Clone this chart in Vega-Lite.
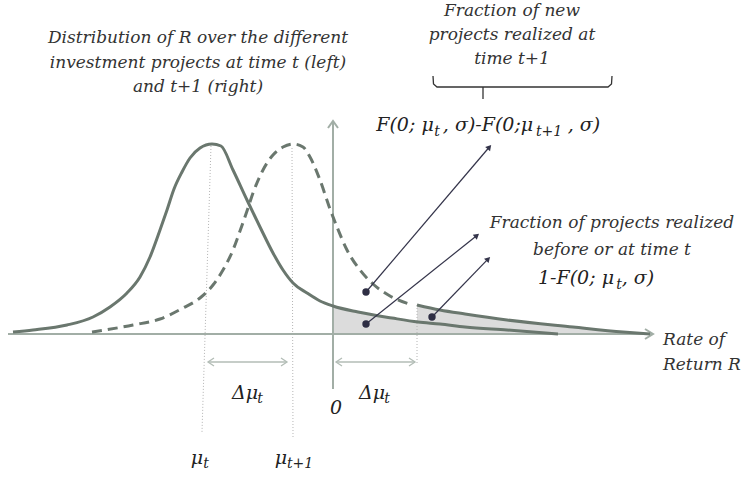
{
  "$schema": "https://vega.github.io/schema/vega-lite/v6.json",
  "width": 743,
  "height": 479,
  "autosize": {"type": "fit", "contains": "padding"},
  "padding": 0,
  "background": "white",
  "config": {"view": {"stroke": null}},
  "datasets": {
    "solid": [
      {"x": 13, "y": 332}, {"x": 33, "y": 330}, {"x": 67, "y": 325}, {"x": 93, "y": 317},
      {"x": 110, "y": 307}, {"x": 127, "y": 293}, {"x": 140, "y": 277}, {"x": 150, "y": 257},
      {"x": 160, "y": 230}, {"x": 167, "y": 210}, {"x": 174, "y": 189}, {"x": 182, "y": 172},
      {"x": 190, "y": 158}, {"x": 200, "y": 148}, {"x": 212, "y": 144}, {"x": 221, "y": 146},
      {"x": 233, "y": 170}, {"x": 247, "y": 200}, {"x": 260, "y": 227}, {"x": 273, "y": 253},
      {"x": 283, "y": 270}, {"x": 293, "y": 283}, {"x": 307, "y": 293}, {"x": 320, "y": 301},
      {"x": 333, "y": 306}, {"x": 358, "y": 312}, {"x": 392, "y": 318}, {"x": 418, "y": 322},
      {"x": 440, "y": 324}, {"x": 465, "y": 327}, {"x": 507, "y": 330}, {"x": 558, "y": 334}
    ],
    "dashed": [
      {"x": 92, "y": 332}, {"x": 133, "y": 325}, {"x": 160, "y": 319}, {"x": 183, "y": 308},
      {"x": 200, "y": 298}, {"x": 213, "y": 285}, {"x": 223, "y": 270}, {"x": 233, "y": 250},
      {"x": 240, "y": 231}, {"x": 247, "y": 211}, {"x": 253, "y": 193}, {"x": 263, "y": 170},
      {"x": 273, "y": 155}, {"x": 283, "y": 147}, {"x": 293, "y": 144}, {"x": 303, "y": 147},
      {"x": 310, "y": 157}, {"x": 320, "y": 180}, {"x": 330, "y": 209}, {"x": 337, "y": 227},
      {"x": 347, "y": 250}, {"x": 360, "y": 270}, {"x": 373, "y": 284}, {"x": 390, "y": 296},
      {"x": 409, "y": 304}
    ],
    "upper": [
      {"x": 417, "y": 305}, {"x": 440, "y": 310}, {"x": 465, "y": 314}, {"x": 507, "y": 320},
      {"x": 573, "y": 327}, {"x": 623, "y": 332}, {"x": 650, "y": 334}
    ],
    "shade": [
      {"seg": "a", "x": 333, "y": 306, "y2": 334}, {"seg": "a", "x": 358, "y": 312, "y2": 334},
      {"seg": "a", "x": 392, "y": 318, "y2": 334}, {"seg": "a", "x": 417, "y": 322, "y2": 334},
      {"seg": "b", "x": 417, "y": 305, "y2": 334}, {"seg": "b", "x": 440, "y": 310, "y2": 334},
      {"seg": "b", "x": 465, "y": 314, "y2": 334}, {"seg": "b", "x": 507, "y": 320, "y2": 334},
      {"seg": "b", "x": 573, "y": 327, "y2": 334}, {"seg": "b", "x": 623, "y": 332, "y2": 334},
      {"seg": "b", "x": 650, "y": 334, "y2": 334}
    ],
    "axes": [
      {"id": "xa", "o": 1, "x": 8, "y": 334}, {"id": "xa", "o": 2, "x": 653, "y": 334},
      {"id": "xh", "o": 1, "x": 645, "y": 329}, {"id": "xh", "o": 2, "x": 653, "y": 334}, {"id": "xh", "o": 3, "x": 645, "y": 339},
      {"id": "ya", "o": 1, "x": 333, "y": 389}, {"id": "ya", "o": 2, "x": 333, "y": 121},
      {"id": "yh", "o": 1, "x": 328, "y": 128}, {"id": "yh", "o": 2, "x": 333, "y": 121}, {"id": "yh", "o": 3, "x": 338, "y": 128}
    ],
    "spans": [
      {"id": "s1", "o": 1, "x": 208, "y": 362}, {"id": "s1", "o": 2, "x": 287, "y": 362},
      {"id": "s1l", "o": 1, "x": 214, "y": 358}, {"id": "s1l", "o": 2, "x": 208, "y": 362}, {"id": "s1l", "o": 3, "x": 214, "y": 366},
      {"id": "s1r", "o": 1, "x": 281, "y": 358}, {"id": "s1r", "o": 2, "x": 287, "y": 362}, {"id": "s1r", "o": 3, "x": 281, "y": 366},
      {"id": "s2", "o": 1, "x": 336, "y": 362}, {"id": "s2", "o": 2, "x": 415, "y": 362},
      {"id": "s2l", "o": 1, "x": 342, "y": 358}, {"id": "s2l", "o": 2, "x": 336, "y": 362}, {"id": "s2l", "o": 3, "x": 342, "y": 366},
      {"id": "s2r", "o": 1, "x": 409, "y": 358}, {"id": "s2r", "o": 2, "x": 415, "y": 362}, {"id": "s2r", "o": 3, "x": 409, "y": 366}
    ],
    "guides": [
      {"id": "g1", "o": 1, "x": 211, "y": 146}, {"id": "g1", "o": 2, "x": 202, "y": 432},
      {"id": "g2", "o": 1, "x": 292, "y": 148}, {"id": "g2", "o": 2, "x": 293, "y": 439},
      {"id": "g3", "o": 1, "x": 417, "y": 305}, {"id": "g3", "o": 2, "x": 417, "y": 365}
    ],
    "pointers": [
      {"id": "p1", "o": 1, "x": 366, "y": 292}, {"id": "p1", "o": 2, "x": 489.4, "y": 147},
      {"id": "p2", "o": 1, "x": 366, "y": 324}, {"id": "p2", "o": 2, "x": 476.9, "y": 235.5},
      {"id": "p3", "o": 1, "x": 432, "y": 317}, {"id": "p3", "o": 2, "x": 488.2, "y": 258.9}
    ],
    "heads": [
      {"x": 489.4, "y": 147, "a": 40}, {"x": 476.9, "y": 235.5, "a": 51}, {"x": 488.2, "y": 258.9, "a": 44}
    ],
    "dots": [
      {"x": 366, "y": 292}, {"x": 366, "y": 324}, {"x": 432, "y": 317}
    ],
    "brace": [
      {"id": "b", "o": 1, "x": 433, "y": 76}, {"id": "b", "o": 2, "x": 433.5, "y": 84}, {"id": "b", "o": 3, "x": 437, "y": 87},
      {"id": "b", "o": 4, "x": 608, "y": 87}, {"id": "b", "o": 5, "x": 611.5, "y": 84}, {"id": "b", "o": 6, "x": 612, "y": 76},
      {"id": "t", "o": 1, "x": 483, "y": 87}, {"id": "t", "o": 2, "x": 483, "y": 99}
    ],
    "notes": [
      {"x": 198, "y": 38, "t": "Distribution of R over the different"},
      {"x": 198, "y": 63, "t": "investment projects at time t (left)"},
      {"x": 198, "y": 87, "t": "and t+1 (right)"},
      {"x": 512, "y": 11, "t": "Fraction of new"},
      {"x": 512, "y": 35, "t": "projects realized at"},
      {"x": 512, "y": 59, "t": "time t+1"},
      {"x": 612, "y": 223, "t": "Fraction of projects realized"},
      {"x": 612, "y": 250, "t": "before or at time t"}
    ],
    "math": [
      {"x": 405, "y": 125, "t": "F(0; μ"},
      {"x": 488, "y": 125, "t": ", σ)-F(0;μ"},
      {"x": 584, "y": 125, "t": ", σ)"},
      {"x": 576, "y": 278, "t": "1-F(0;  μ"},
      {"x": 638, "y": 278, "t": ", σ)"},
      {"x": 245, "y": 393, "t": "Δμ"},
      {"x": 372, "y": 393, "t": "Δμ"},
      {"x": 336, "y": 408, "t": "0"},
      {"x": 197, "y": 458, "t": "μ"},
      {"x": 281, "y": 458, "t": "μ"}
    ],
    "subs": [
      {"x": 437, "y": 132, "t": "t"},
      {"x": 549, "y": 132, "t": "t+1"},
      {"x": 619, "y": 285, "t": "t"},
      {"x": 260, "y": 399, "t": "t"},
      {"x": 387, "y": 399, "t": "t"},
      {"x": 206, "y": 464, "t": "t"},
      {"x": 300, "y": 464, "t": "t+1"}
    ],
    "side": [
      {"x": 663, "y": 340, "t": "Rate of"},
      {"x": 663, "y": 365, "t": "Return R"}
    ]
  },
  "encoding": {
    "x": {"field": "x", "type": "quantitative", "scale": {"domain": [0, 743], "nice": false, "zero": false}, "axis": null},
    "y": {"field": "y", "type": "quantitative", "scale": {"domain": [0, 479], "nice": false, "zero": false, "reverse": true}, "axis": null}
  },
  "layer": [
    {
      "data": {"name": "shade"},
      "mark": {"type": "area", "color": "#dcdcdc", "interpolate": "monotone"},
      "encoding": {"y2": {"field": "y2"}, "detail": {"field": "seg"}}
    },
    {
      "data": {"name": "guides"},
      "mark": {"type": "line", "color": "#b4b4b4", "strokeWidth": 1, "strokeDash": [1, 2]},
      "encoding": {"detail": {"field": "id"}, "order": {"field": "o"}}
    },
    {
      "data": {"name": "axes"},
      "mark": {"type": "line", "color": "#a2aea6", "strokeWidth": 2},
      "encoding": {"detail": {"field": "id"}, "order": {"field": "o"}}
    },
    {
      "data": {"name": "spans"},
      "mark": {"type": "line", "color": "#b3bdb6", "strokeWidth": 1.3},
      "encoding": {"detail": {"field": "id"}, "order": {"field": "o"}}
    },
    {
      "data": {"name": "dashed"},
      "mark": {"type": "line", "color": "#6a776e", "strokeWidth": 3, "strokeDash": [10, 6], "interpolate": "monotone"},
      "encoding": {}
    },
    {
      "data": {"name": "solid"},
      "mark": {"type": "line", "color": "#6a776e", "strokeWidth": 3, "interpolate": "monotone"},
      "encoding": {}
    },
    {
      "data": {"name": "upper"},
      "mark": {"type": "line", "color": "#6a776e", "strokeWidth": 3, "interpolate": "monotone"},
      "encoding": {}
    },
    {
      "data": {"name": "pointers"},
      "mark": {"type": "line", "color": "#34344a", "strokeWidth": 1.2},
      "encoding": {"detail": {"field": "id"}, "order": {"field": "o"}}
    },
    {
      "data": {"name": "heads"},
      "mark": {"type": "point", "shape": "triangle-up", "filled": true, "color": "#34344a", "size": 40, "opacity": 1},
      "encoding": {"angle": {"field": "a", "type": "quantitative", "scale": null}}
    },
    {
      "data": {"name": "dots"},
      "mark": {"type": "point", "shape": "circle", "filled": true, "color": "#2e2e44", "size": 55, "opacity": 1},
      "encoding": {}
    },
    {
      "data": {"name": "brace"},
      "mark": {"type": "line", "color": "#333333", "strokeWidth": 1.3},
      "encoding": {"detail": {"field": "id"}, "order": {"field": "o"}}
    },
    {
      "data": {"name": "notes"},
      "mark": {"type": "text", "font": "DejaVu Serif", "fontStyle": "italic", "fontSize": 17, "color": "#333333", "align": "center", "baseline": "middle"},
      "encoding": {"text": {"field": "t"}}
    },
    {
      "data": {"name": "math"},
      "mark": {"type": "text", "font": "DejaVu Serif", "fontStyle": "italic", "fontSize": 19, "color": "#222222", "align": "center", "baseline": "middle"},
      "encoding": {"text": {"field": "t"}}
    },
    {
      "data": {"name": "subs"},
      "mark": {"type": "text", "font": "DejaVu Serif", "fontStyle": "italic", "fontSize": 14, "color": "#222222", "align": "center", "baseline": "middle"},
      "encoding": {"text": {"field": "t"}}
    },
    {
      "data": {"name": "side"},
      "mark": {"type": "text", "font": "DejaVu Serif", "fontStyle": "italic", "fontSize": 17, "color": "#333333", "align": "left", "baseline": "middle"},
      "encoding": {"text": {"field": "t"}}
    }
  ]
}
